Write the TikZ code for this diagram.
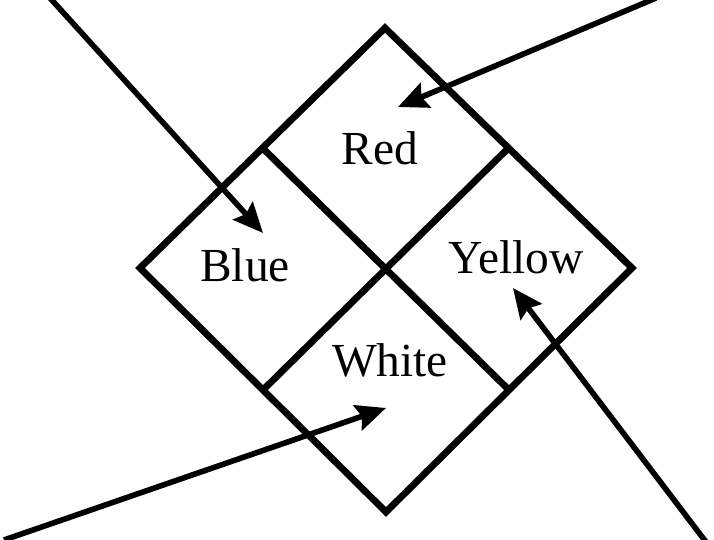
\documentclass[tikz,border=0pt]{standalone}
\usepackage{fontspec}
\setmainfont{Liberation Serif}
\usetikzlibrary{arrows.meta,positioning,calc}

\begin{document}
\begin{tikzpicture}[x=0.02cm,y=-0.02cm,>={Stealth[length=17pt,width=15pt,inset=2.5pt]},
  edge/.style={line width=3.9pt,line join=miter},
  pointer/.style={->,line width=3.2pt},
  every node/.style={font=\fontsize{27}{30}\selectfont,inner sep=0pt}]
\useasboundingbox (0,0) rectangle (714,540);
% corners of the big diamond
\coordinate (top) at (385,28);
\coordinate (lft) at (140,268);
\coordinate (rgt) at (632,268);
\coordinate (bot) at (386,512);
\draw[edge] (top)--(rgt)--(bot)--(lft)--cycle;
\draw[edge] ($(top)!.5!(lft)$)--($(rgt)!.5!(bot)$);
\draw[edge] ($(top)!.5!(rgt)$)--($(lft)!.5!(bot)$);
% labels
\node (red) at (380,148) {Red};
\node (blue) at (245,265) {Blue};
\node (yellow) at (516,257) {Yellow};
\node (white) at (390,360) {White};
% arrows
\coordinate (redtail) at (656,-2);
\coordinate (redtip) at (398,107);
\coordinate (bluetail) at (50,-2);
\coordinate (bluetip) at (263,233);
\coordinate (whitetail) at (4,540);
\coordinate (whitetip) at (386,408);
\coordinate (yellowtail) at (706,542);
\coordinate (yellowtip) at (513,288);
\draw[pointer] (redtail)--(redtip);
\draw[pointer] (bluetail)--(bluetip);
\draw[pointer] (whitetail)--(whitetip);
\draw[pointer] (yellowtail)--(yellowtip);
\end{tikzpicture}
\end{document}
